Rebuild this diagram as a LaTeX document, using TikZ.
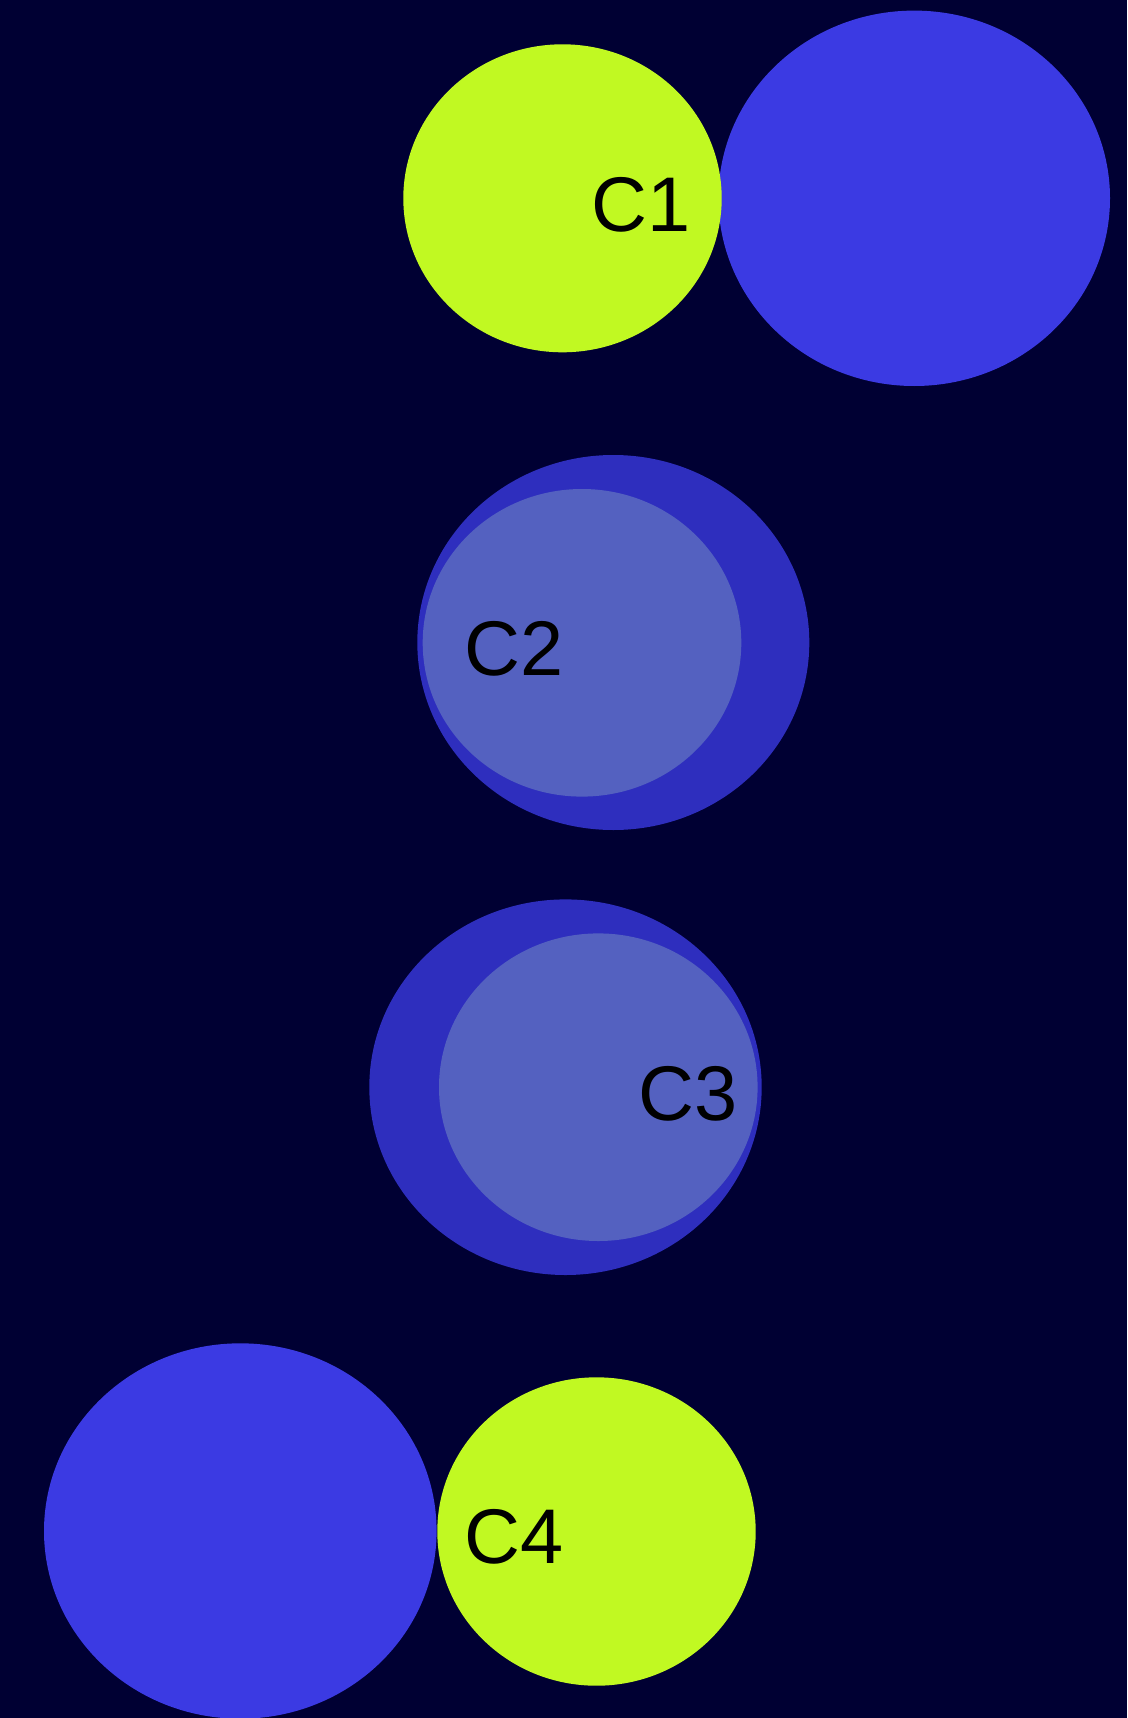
\documentclass[tikz,border=0pt]{standalone}
\usepackage{fontspec}
\setmainfont{Liberation Sans}
\definecolor{bgnavy}{RGB}{0,0,51}
\definecolor{lime}{RGB}{193,249,34}
\definecolor{royal}{RGB}{59,58,227}
\definecolor{deepblue}{RGB}{46,46,190}
\definecolor{softblue}{RGB}{84,97,192}
\tikzset{
  lbl/.style={inner sep=0pt, text=black, font=\fontsize{77.5}{93}\selectfont},
}
\begin{document}
\begin{tikzpicture}[x=1pt,y=-1pt]
  % canvas
  \fill[bgnavy] (0,0) rectangle (1127,1718);
  \useasboundingbox (0,0) rectangle (1127,1718);

  % row 1: blue disc with the lime C1 disc in front
  \fill[royal] (914.2,198.3) ellipse [x radius=195.8, y radius=187.7];
  \fill[lime] (562.5,198.3) ellipse [x radius=159.2, y radius=154];
  \node[lbl] (c1) at (641.3,204.5) {C1};

  % row 2: nested discs, inner shifted left
  \fill[deepblue] (613.3,642.5) ellipse [x radius=196, y radius=187.5];
  \fill[softblue] (582,642.8) ellipse [x radius=159.3, y radius=153.8];
  \node[lbl] (c2) at (513.7,649.2) {C2};

  % row 3: nested discs, inner shifted right
  \fill[deepblue] (565.5,1087.2) ellipse [x radius=196.2, y radius=187.8];
  \fill[softblue] (598.3,1087.2) ellipse [x radius=159.3, y radius=153.8];
  \node[lbl] (c3) at (687.8,1093.5) {C3};

  % row 4: blue disc on the left, lime C4 disc beside it
  \fill[royal] (240.3,1531) ellipse [x radius=196.3, y radius=187.7];
  \fill[lime] (596.5,1531.5) ellipse [x radius=159.2, y radius=154.2];
  \node[lbl] (c4) at (514,1537.2) {C4};
\end{tikzpicture}
\end{document}
